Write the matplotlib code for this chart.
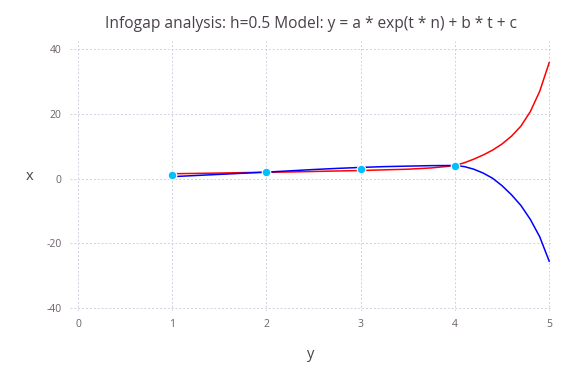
import matplotlib
matplotlib.use("Agg")
import matplotlib.pyplot as plt

# observed data points
obs_t = [1, 2, 3, 4]
obs_x = [1.0, 2.0, 3.0, 4.0]

# envelope curves
t_grid = [1.0, 1.25, 1.5, 1.75, 2.0, 2.25, 2.5, 2.75, 3.0, 3.25, 3.5, 3.75,
          4.0, 4.1, 4.2, 4.3, 4.4, 4.5, 4.6, 4.7, 4.8, 4.9, 5.0]
upper = [1.5, 1.6, 1.7, 1.85, 1.95, 2.05, 2.2, 2.35, 2.5, 2.7, 2.9, 3.3,
         4.0, 4.9, 6.0, 7.3, 8.8, 10.7, 13.1, 16.2, 20.7, 27.0, 35.8]
lower = [0.6, 0.95, 1.3, 1.65, 2.0, 2.4, 2.8, 3.15, 3.45, 3.7, 3.85, 4.0,
         4.05, 3.7, 2.9, 1.7, 0.1, -2.2, -5.0, -8.3, -12.6, -18.0, -25.5]

xticks = [0, 1, 2, 3, 4, 5]
yticks = [-40, -20, 0, 20, 40]

plt.rcParams['font.family'] = ['Open Sans', 'DejaVu Sans']
plt.rcParams['axes.unicode_minus'] = False

fig = plt.figure(figsize=(5.76, 3.84), dpi=100)
ax = fig.add_axes([70 / 576, 1 - 311 / 384, 482 / 576, 270 / 384])

ax.plot(t_grid, upper, color='red', lw=1.1, zorder=2)
ax.plot(t_grid, lower, color='blue', lw=1.1, zorder=2)
ax.scatter(obs_t, obs_x, s=38, color='#00bfff', edgecolor='white',
           linewidth=0.8, zorder=3)

ax.set_xlim(-0.085, 5.03)
ax.set_ylim(-40.9, 42.5)
ax.set_xticks(xticks)
ax.set_yticks(yticks)
ax.grid(True, color='#d0d0e0', linestyle=(0, (2, 2)), linewidth=0.7)
for s in ax.spines.values():
    s.set_visible(False)
ax.tick_params(length=0, labelsize=7.5, labelcolor='#6c606b', pad=6)

ax.set_xlabel('y', fontsize=10.5, color='#4a4049', labelpad=12)
ax.set_ylabel('x', fontsize=10.5, color='#4a4049', rotation=0, labelpad=12,
              va='center')
ax.set_title('Infogap analysis: h=0.5 Model: y = a * exp(t * n) + b * t + c',
             fontsize=11.2, color='#4a4049', pad=9)

fig.savefig('out.png', dpi=100)
